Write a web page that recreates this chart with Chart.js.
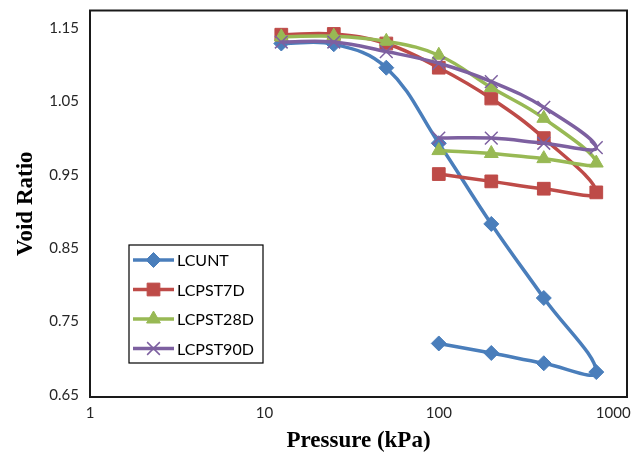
<!DOCTYPE html>
<html>
<head>
<meta charset="utf-8">
<script src="https://cdn.jsdelivr.net/npm/chart.js@4/dist/chart.umd.min.js"></script>
<style>
  html, body { margin: 0; padding: 0; background: #fff; }
  #wrap { width: 644px; height: 455px; }
</style>
</head>
<body>
<div id="wrap"><canvas id="voidChart" width="644" height="455"></canvas></div>
<script>
// pressure steps: loading 12.5 -> 800 then unloading back to 100 kPa
const pressures = [12.5, 25, 50, 100, 200, 400, 800, 400, 200, 100]

const lcunt    = [1.129, 1.128, 1.096, 0.993, 0.883, 0.782, 0.681, 0.693, 0.707, 0.720]
const lcpst7d  = [1.141, 1.142, 1.129, 1.096, 1.054, 1.000, 0.926, 0.931, 0.941, 0.951]
const lcpst28d = [1.138, 1.139, 1.132, 1.113, 1.069, 1.027, 0.966, 0.972, 0.979, 0.983]
const lcpst90d = [1.131, 1.131, 1.118, 1.102, 1.077, 1.042, 0.987, 0.993, 1.000, 1.000]

const xTicks = [1, 10, 100, 1000]
const yTicks = [0.65, 0.75, 0.85, 0.95, 1.05, 1.15]

// pair pressures with a series
function pts(vals) {
    return vals.map((v, i) => ({ x: pressures[i], y: v }))
}

function series(label, vals, color, style, radius, order) {
    return {
        label: label,
        data: pts(vals),
        borderColor: color,
        backgroundColor: color,
        pointBackgroundColor: color,
        pointBorderColor: color,
        pointBorderWidth: style === 'crossRot' ? 1.5 : 1,
        pointStyle: style,
        pointRadius: radius,
        pointHoverRadius: radius,
        borderWidth: 3.5,
        tension: 0.4,
        fill: false,
        order: order
    }
}

// plot frame box
const frame = {
    id: 'frame',
    afterDatasetsDraw(chart) {
        const a = chart.chartArea, ctx = chart.ctx
        ctx.save()
        ctx.strokeStyle = '#1a1a1a'
        ctx.lineWidth = 2
        ctx.strokeRect(a.left, a.top, a.right - a.left, a.bottom - a.top)
        ctx.restore()
    }
}

// legend box inside the plot, like the excel one
const boxLegend = {
    id: 'boxLegend',
    afterDraw(chart) {
        const a = chart.chartArea, ctx = chart.ctx
        const bx = a.left + 39, by = a.top + 234.5, bw = 134, bh = 118
        ctx.save()
        ctx.fillStyle = '#fff'
        ctx.fillRect(bx, by, bw, bh)
        ctx.strokeStyle = '#000'
        ctx.lineWidth = 1.2
        ctx.strokeRect(bx, by, bw, bh)
        chart.data.datasets.forEach((ds, i) => {
            const y = by + 15 + i * 29.5
            ctx.strokeStyle = ds.borderColor
            ctx.fillStyle = ds.backgroundColor
            ctx.lineWidth = 3.5
            ctx.beginPath()
            ctx.moveTo(bx + 4, y)
            ctx.lineTo(bx + 45, y)
            ctx.stroke()
            ctx.lineWidth = ds.pointBorderWidth
            Chart.helpers.drawPoint(ctx, {
                pointStyle: ds.pointStyle,
                radius: ds.pointRadius,
                rotation: 0,
                borderWidth: ds.pointBorderWidth
            }, bx + 24.5, y)
            ctx.fillStyle = '#000'
            ctx.font = '16px Lato'
            ctx.textBaseline = 'middle'
            ctx.textAlign = 'left'
            ctx.fillText(ds.label, bx + 48, y + 1)
        })
        ctx.restore()
    }
}

const data = {
    datasets: [
        series('LCUNT', lcunt, '#4A7EBB', 'rectRot', 7.5, 4),
        series('LCPST7D', lcpst7d, '#BE4B48', 'rect', 9, 3),
        series('LCPST28D', lcpst28d, '#98B954', 'triangle', 8, 2),
        series('LCPST90D', lcpst90d, '#7D60A0', 'crossRot', 9, 1)
    ]
}

const config = {
    type: 'line',
    data: data,
    options: {
        responsive: false,
        animation: false,
        layout: { padding: { left: 0, right: 17, top: 9.5, bottom: 0 } },
        plugins: {
            legend: { display: false },
            tooltip: { enabled: false }
        },
        scales: {
            x: {
                type: 'logarithmic',
                min: 1,
                max: 1200, // the excel plot box runs a bit past 1000
                grid: { display: false, drawTicks: false },
                border: { display: false },
                afterBuildTicks: axis => { axis.ticks = xTicks.map(v => ({ value: v })) },
                afterFit: axis => {
                    axis.height = 58
                    axis.paddingLeft = 0
                    axis.paddingRight = 0
                },
                ticks: {
                    padding: 7,
                    maxRotation: 0,
                    autoSkip: false,
                    color: '#262626',
                    font: { family: 'Lato', size: 15 },
                    callback: v => String(v)
                },
                title: {
                    display: true,
                    text: 'Pressure (kPa)',
                    color: '#000',
                    font: { family: 'Liberation Serif', size: 23, weight: 'bold' },
                    padding: { top: 0, bottom: 0 }
                }
            },
            y: {
                min: 0.647,
                max: 1.174,
                grid: { display: false, drawTicks: false },
                border: { display: false },
                afterBuildTicks: axis => { axis.ticks = yTicks.map(v => ({ value: v })) },
                afterFit: axis => {
                    axis.width = 90
                    axis.paddingTop = 0
                    axis.paddingBottom = 0
                },
                ticks: {
                    padding: 11,
                    color: '#262626',
                    font: { family: 'Lato', size: 15 },
                    callback: v => v.toFixed(2)
                },
                title: {
                    display: true,
                    text: 'Void Ratio',
                    color: '#000',
                    font: { family: 'Liberation Serif', size: 23, weight: 'bold' },
                    padding: { top: 12, bottom: 0 }
                }
            }
        }
    },
    plugins: [frame, boxLegend]
}

const voidChart = new Chart(document.getElementById('voidChart'), config)
</script>
</body>
</html>
